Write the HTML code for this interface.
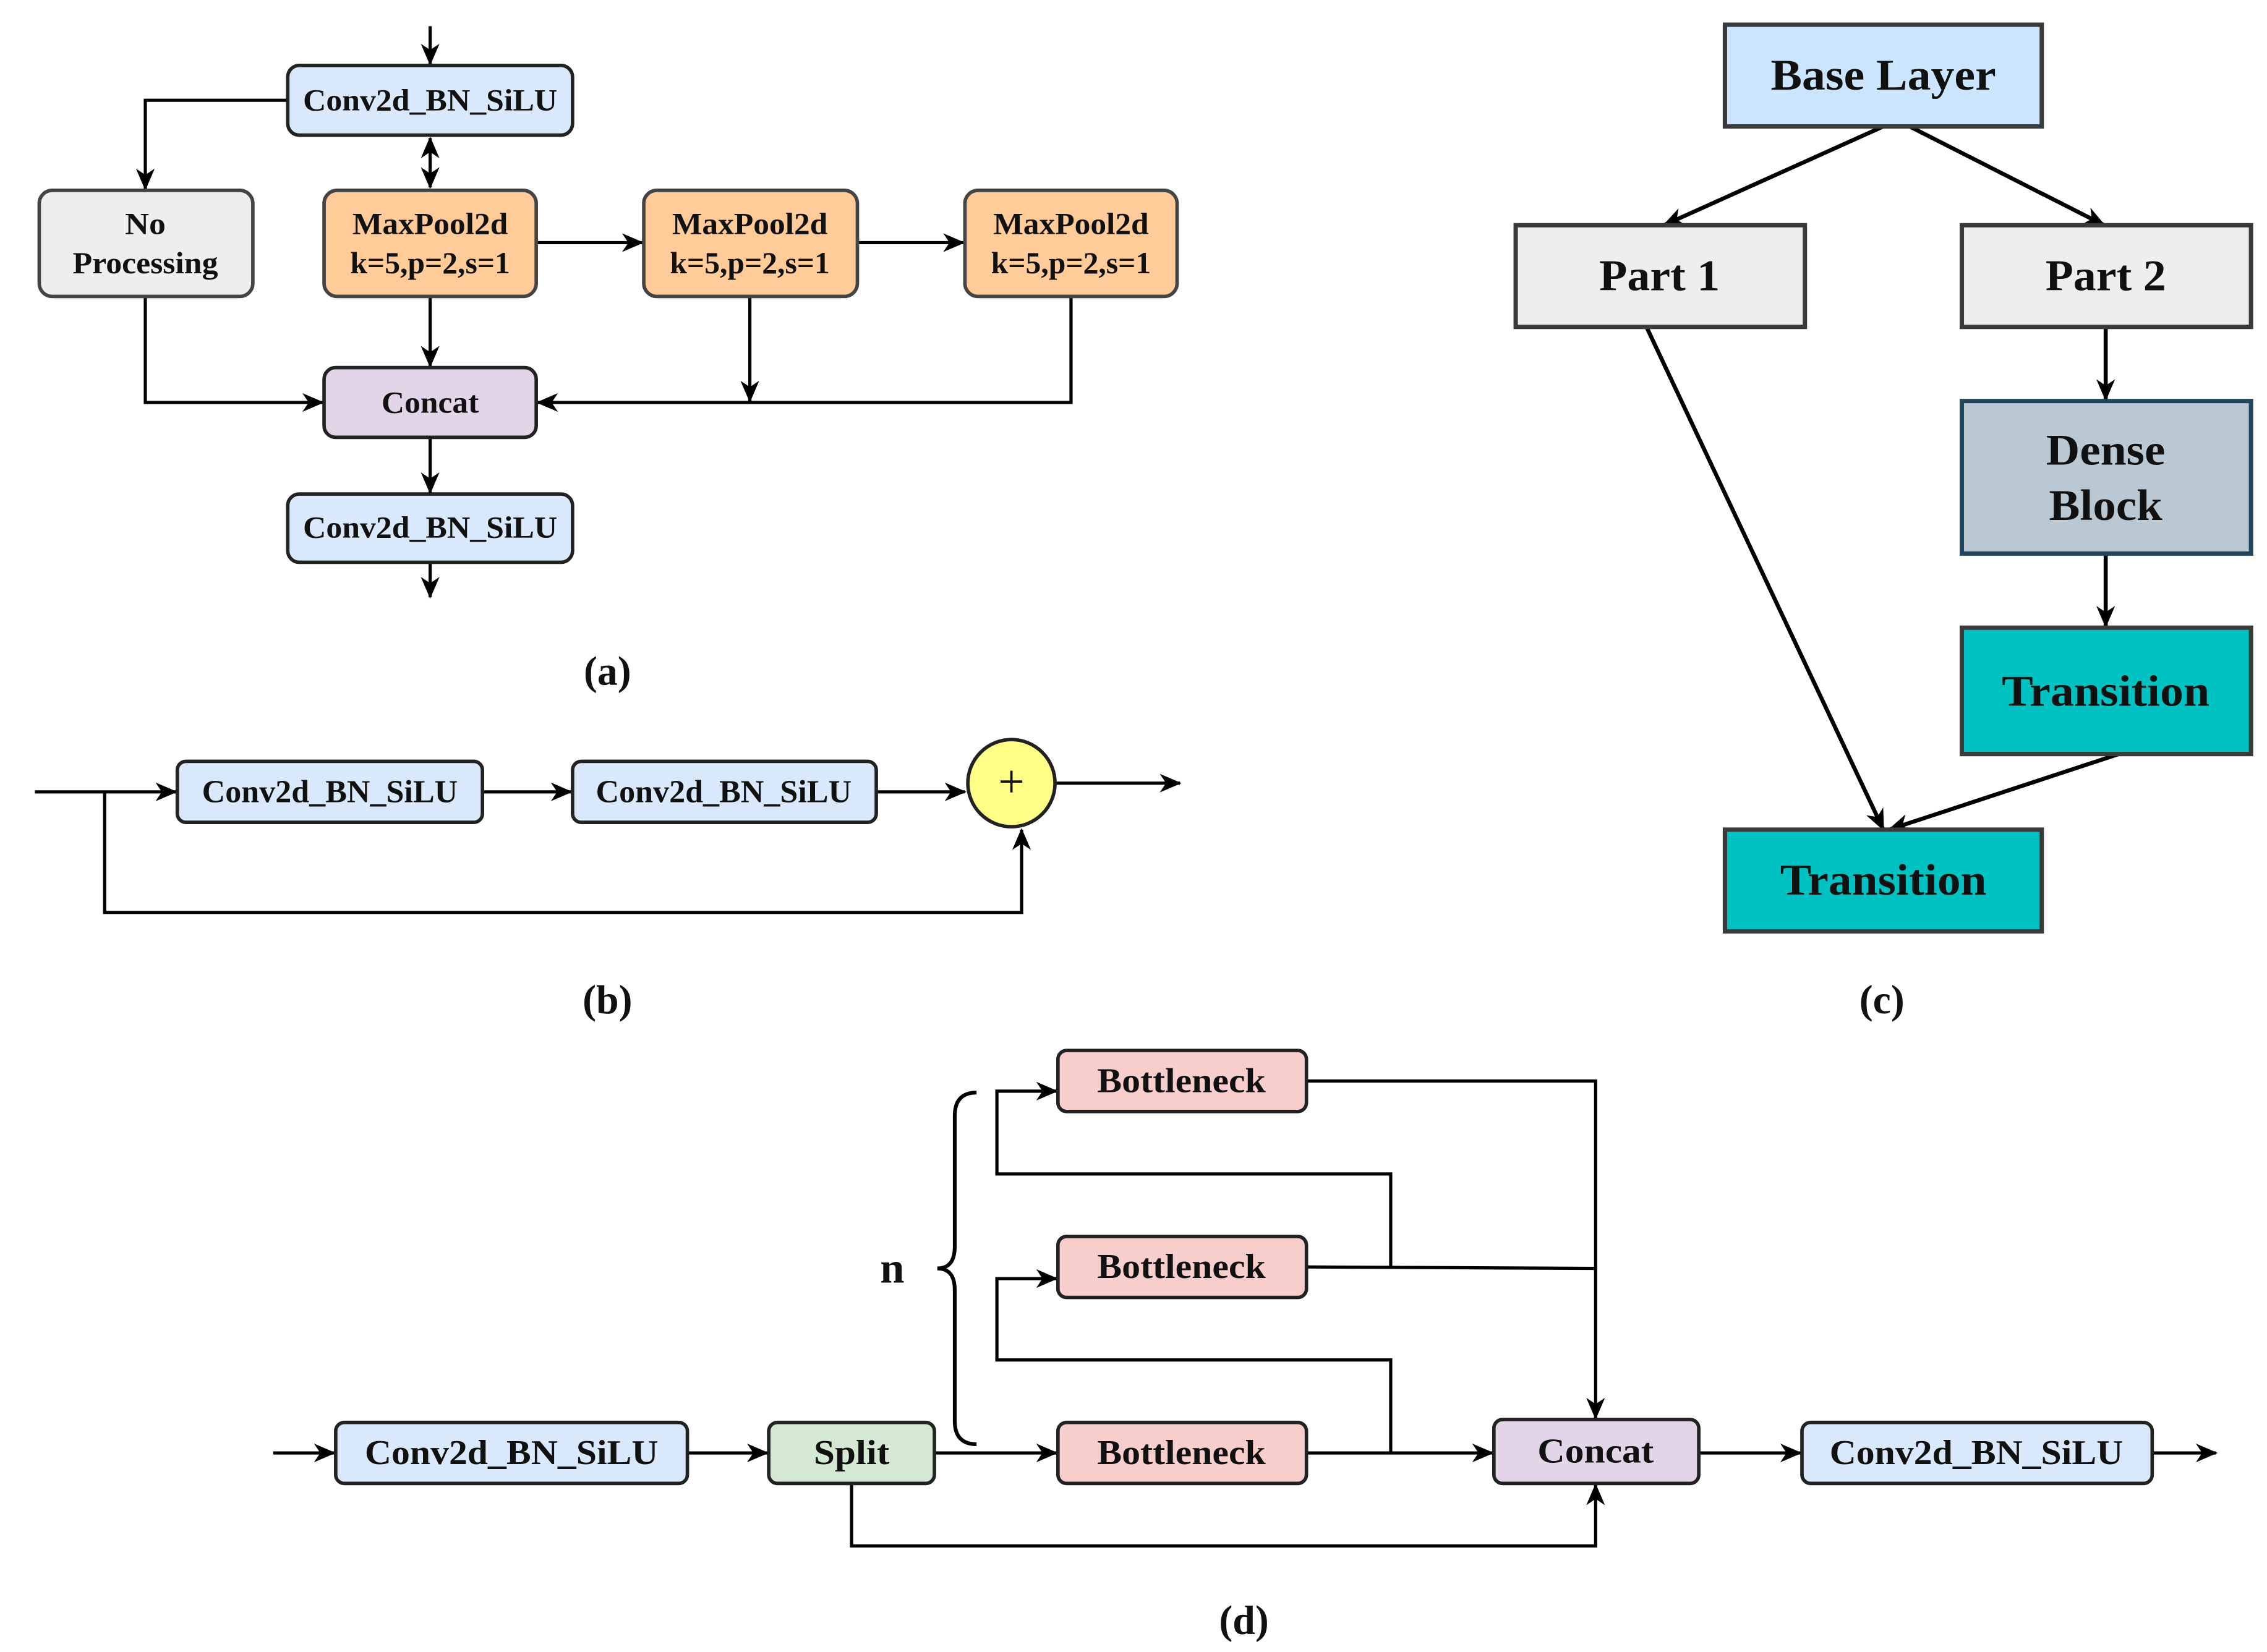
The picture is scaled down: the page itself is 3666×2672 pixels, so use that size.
<!DOCTYPE html>
<html><head><meta charset="utf-8"><style>
html,body{margin:0;padding:0;background:#fff;}
svg{display:block;}
text{font-family:"Liberation Serif","Times New Roman","DejaVu Serif",serif;font-weight:bold;fill:#111;text-anchor:middle;dominant-baseline:central;}
</style></head><body>
<svg width="3666" height="2672" viewBox="0 0 1560 1137" xmlns="http://www.w3.org/2000/svg" font-family="Liberation Serif, serif">
<defs>
<marker id="a" viewBox="0 0 14 12" refX="13" refY="6" markerWidth="15" markerHeight="13" markerUnits="userSpaceOnUse" orient="auto-start-reverse">
<path d="M0,0 L14,6 L0,12 L4,6 z" fill="#000"/></marker>
</defs>
<rect width="1560" height="1137" fill="#fff"/>
<g fill="none" stroke="#000" stroke-width="2.2">
<path d="M296,18 V44" marker-end="url(#a)"/>
<path d="M198,69 H100 V130" marker-end="url(#a)"/>
<path d="M296,95 V129" marker-end="url(#a)" marker-start="url(#a)"/>
<path d="M369,167 H442" marker-end="url(#a)"/>
<path d="M590,167 H663" marker-end="url(#a)"/>
<path d="M296,204 V252" marker-end="url(#a)"/>
<path d="M100,204 V277 H222" marker-end="url(#a)"/>
<path d="M516,204 V276" marker-end="url(#a)"/>
<path d="M737,204 V277 H370" marker-end="url(#a)"/>
<path d="M296,301 V339" marker-end="url(#a)"/>
<path d="M296,387 V411" marker-end="url(#a)"/>
<path d="M24,545 H121" marker-end="url(#a)"/>
<path d="M332,545 H393" marker-end="url(#a)"/>
<path d="M603,545 H664" marker-end="url(#a)"/>
<path d="M726,539 H812" marker-end="url(#a)"/>
<path d="M72,545 V628 H703 V571" marker-end="url(#a)"/>
<path d="M1296,87 L1145,155" marker-end="url(#a)" stroke-width="2.8"/>
<path d="M1314,87 L1448,155" marker-end="url(#a)" stroke-width="2.8"/>
<path d="M1449,225 V275" marker-end="url(#a)" stroke-width="2.8"/>
<path d="M1449,381 V431" marker-end="url(#a)" stroke-width="2.8"/>
<path d="M1133,225 L1296,571" marker-end="url(#a)" stroke-width="2.8"/>
<path d="M1458,519 L1300,571" marker-end="url(#a)" stroke-width="2.8"/>
<path d="M188,1000 H230" marker-end="url(#a)"/>
<path d="M473,1000 H528" marker-end="url(#a)"/>
<path d="M643,1000 H727" marker-end="url(#a)"/>
<path d="M899,1000 H1027" marker-end="url(#a)"/>
<path d="M1169,1000 H1239" marker-end="url(#a)"/>
<path d="M1481,1000 H1525" marker-end="url(#a)"/>
<path d="M899,744 H1098 V976" marker-end="url(#a)"/>
<path d="M899,872 L1098,873"/>
<path d="M957,872 V808 H686 V751 H727" marker-end="url(#a)"/>
<path d="M957,1000 V936 H686 V880 H727" marker-end="url(#a)"/>
<path d="M586,1021 V1064 H1098 V1022" marker-end="url(#a)"/>
<path d="M672,752 Q657,752 657,768 V858 Q657,873 645,873 Q657,873 657,888 V978 Q657,994 672,994" stroke-width="2.6"/>
</g>
<g stroke="#222" stroke-width="2.4">
<rect x="198" y="45" width="196" height="48" rx="8" fill="#dae8fc"/>
<rect x="27" y="131" width="147" height="73" rx="9" fill="#eeeeee" stroke="#444"/>
<rect x="223" y="131" width="146" height="73" rx="9" fill="#ffcc99" stroke="#444"/>
<rect x="443" y="131" width="147" height="73" rx="9" fill="#ffcc99" stroke="#444"/>
<rect x="664" y="131" width="146" height="73" rx="9" fill="#ffcc99" stroke="#444"/>
<rect x="223" y="253" width="146" height="48" rx="8" fill="#e1d5e7"/>
<rect x="198" y="340" width="196" height="47" rx="8" fill="#dae8fc"/>
<rect x="122" y="524" width="210" height="42" rx="6" fill="#dae8fc"/>
<rect x="394" y="524" width="209" height="42" rx="6" fill="#dae8fc"/>
<circle cx="696" cy="539" r="30" fill="#ffff88"/>
<rect x="1187" y="17" width="218" height="70" fill="#cce5ff" stroke="#3a3a3a" stroke-width="3"/>
<rect x="1043" y="155" width="199" height="70" fill="#eeeeee" stroke="#3a3a3a" stroke-width="3"/>
<rect x="1350" y="155" width="199" height="70" fill="#eeeeee" stroke="#3a3a3a" stroke-width="3"/>
<rect x="1350" y="276" width="199" height="105" fill="#bac8d3" stroke="#23445d" stroke-width="3"/>
<rect x="1350" y="432" width="199" height="87" fill="#00c2c2" stroke="#3a3a3a" stroke-width="3"/>
<rect x="1187" y="571" width="218" height="70" fill="#00c2c2" stroke="#3a3a3a" stroke-width="3"/>
<rect x="231" y="979" width="242" height="42" rx="6" fill="#dae8fc"/>
<rect x="529" y="979" width="114" height="42" rx="6" fill="#d5e8d4"/>
<rect x="728" y="723" width="171" height="42" rx="6" fill="#f8cecc"/>
<rect x="728" y="851" width="171" height="42" rx="6" fill="#f8cecc"/>
<rect x="728" y="979" width="171" height="42" rx="6" fill="#f8cecc"/>
<rect x="1028" y="977" width="141" height="44" rx="6" fill="#e1d5e7"/>
<rect x="1240" y="979" width="241" height="42" rx="6" fill="#dae8fc"/>
</g>
<g font-size="21" lengthAdjust="spacingAndGlyphs">
<text x="296" y="69" textLength="175" lengthAdjust="spacingAndGlyphs">Conv2d_BN_SiLU</text>
<text x="100" y="154" textLength="28" lengthAdjust="spacingAndGlyphs">No</text>
<text x="100" y="181" textLength="100" lengthAdjust="spacingAndGlyphs">Processing</text>
<text x="296" y="154" textLength="107" lengthAdjust="spacingAndGlyphs">MaxPool2d</text><text x="296" y="181" textLength="110" lengthAdjust="spacingAndGlyphs">k=5,p=2,s=1</text>
<text x="516" y="154" textLength="107" lengthAdjust="spacingAndGlyphs">MaxPool2d</text><text x="516" y="181" textLength="110" lengthAdjust="spacingAndGlyphs">k=5,p=2,s=1</text>
<text x="737" y="154" textLength="107" lengthAdjust="spacingAndGlyphs">MaxPool2d</text><text x="737" y="181" textLength="110" lengthAdjust="spacingAndGlyphs">k=5,p=2,s=1</text>
<text x="296" y="277" textLength="67" lengthAdjust="spacingAndGlyphs">Concat</text>
<text x="296" y="363" textLength="175" lengthAdjust="spacingAndGlyphs">Conv2d_BN_SiLU</text>
</g>
<g font-size="22">
<text x="227" y="545" textLength="176" lengthAdjust="spacingAndGlyphs">Conv2d_BN_SiLU</text>
<text x="498" y="545" textLength="176" lengthAdjust="spacingAndGlyphs">Conv2d_BN_SiLU</text>
</g>
<text x="696" y="538" font-size="32" style="font-weight:normal">+</text>
<g font-size="30">
<text x="1296" y="52" textLength="155" lengthAdjust="spacingAndGlyphs">Base Layer</text>
<text x="1142" y="190" textLength="83" lengthAdjust="spacingAndGlyphs">Part 1</text>
<text x="1449" y="190" textLength="83" lengthAdjust="spacingAndGlyphs">Part 2</text>
<text x="1449" y="310" textLength="82" lengthAdjust="spacingAndGlyphs">Dense</text>
<text x="1449" y="348" textLength="78" lengthAdjust="spacingAndGlyphs">Block</text>
<text x="1449" y="476" textLength="143" lengthAdjust="spacingAndGlyphs">Transition</text>
<text x="1296" y="606" textLength="142" lengthAdjust="spacingAndGlyphs">Transition</text>
</g>
<g font-size="24">
<text x="352" y="1000" textLength="202" lengthAdjust="spacingAndGlyphs">Conv2d_BN_SiLU</text>
<text x="586" y="1000" textLength="52" lengthAdjust="spacingAndGlyphs">Split</text>
<text x="813" y="744" textLength="116" lengthAdjust="spacingAndGlyphs">Bottleneck</text>
<text x="813" y="872" textLength="116" lengthAdjust="spacingAndGlyphs">Bottleneck</text>
<text x="813" y="1000" textLength="116" lengthAdjust="spacingAndGlyphs">Bottleneck</text>
<text x="1098" y="999" textLength="80" lengthAdjust="spacingAndGlyphs">Concat</text>
<text x="1360" y="1000" textLength="202" lengthAdjust="spacingAndGlyphs">Conv2d_BN_SiLU</text>
</g>
<text x="614" y="873" font-size="30">n</text>
<g font-size="28" style="font-weight:normal">
<text x="418" y="462">(<tspan font-weight="bold">a</tspan>)</text>
<text x="418" y="688">(<tspan font-weight="bold">b</tspan>)</text>
<text x="1295" y="688">(<tspan font-weight="bold">c</tspan>)</text>
<text x="856" y="1115">(<tspan font-weight="bold">d</tspan>)</text>
</g>
</svg>
</body></html>
